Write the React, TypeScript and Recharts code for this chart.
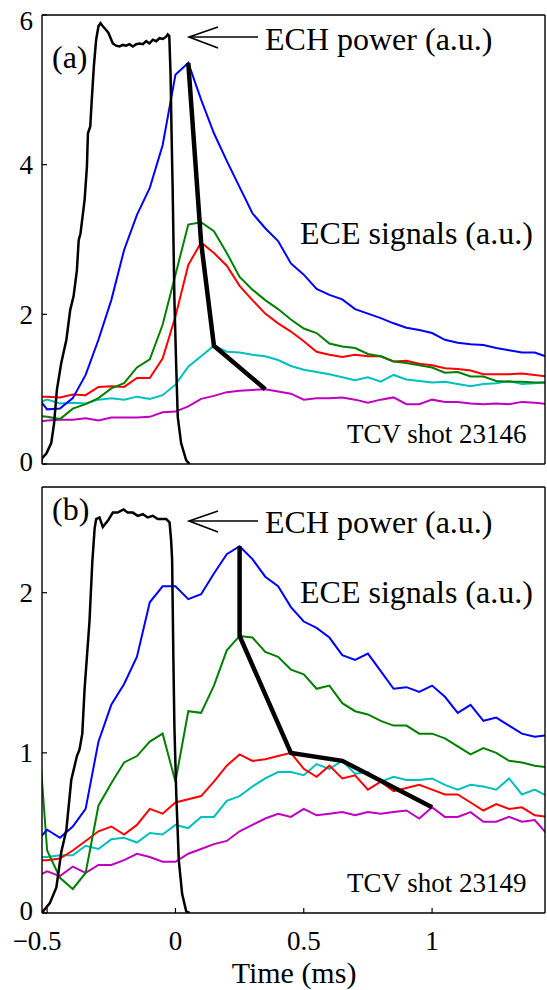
import React from 'react';
import { LineChart, Line, XAxis, YAxis } from 'recharts';

// sample times of the ECE channels (ms)
const TIME = [
  -0.55, -0.5, -0.45, -0.4, -0.35, -0.3, -0.25, -0.2, -0.15, -0.1, -0.05,
  0, 0.05, 0.1, 0.15, 0.2, 0.25, 0.3, 0.35, 0.4, 0.45,
  0.5, 0.55, 0.6, 0.65, 0.7, 0.75, 0.8, 0.85, 0.9, 0.95,
  1.0, 1.05, 1.1, 1.15, 1.2, 1.25, 1.3, 1.35, 1.4, 1.45,
];

// panel (a), shot 23146
const A_BLUE = [
  0.95, 0.73, 0.74, 0.88, 1.19, 1.66, 2.19, 2.86, 3.33, 3.69, 4.26,
  5.2, 5.36, 4.87, 4.42, 4.05, 3.7, 3.35, 3.15, 2.98, 2.68,
  2.53, 2.34, 2.26, 2.2, 2.07, 2.01, 1.95, 1.88, 1.82, 1.79,
  1.75, 1.66, 1.62, 1.6, 1.59, 1.55, 1.52, 1.49, 1.49, 1.43,
];
const A_GREEN = [
  0.65, 0.63, 0.6, 0.74, 0.8, 0.88, 1.01, 1.08, 1.29, 1.4, 1.86,
  2.53, 3.2, 3.23, 3.11, 2.82, 2.5, 2.33, 2.19, 2.07, 1.93,
  1.81, 1.75, 1.61, 1.57, 1.55, 1.47, 1.44, 1.37, 1.35, 1.32,
  1.29, 1.22, 1.23, 1.17, 1.17, 1.11, 1.1, 1.1, 1.09, 1.09,
];
const A_RED = [
  0.9, 0.9, 0.89, 0.93, 0.92, 1.03, 1.04, 1.03, 1.15, 1.15, 1.41,
  1.97, 2.66, 2.96, 2.82, 2.65, 2.38, 2.19, 2.01, 1.88, 1.77,
  1.64, 1.5, 1.46, 1.43, 1.46, 1.44, 1.44, 1.37, 1.38, 1.34,
  1.32, 1.28, 1.27, 1.25, 1.2, 1.2, 1.2, 1.21, 1.19, 1.17,
];
const A_CYAN = [
  0.8, 0.86, 0.81, 0.82, 0.81, 0.86, 0.88, 0.86, 0.9, 0.87, 0.92,
  1.06, 1.3, 1.44, 1.58, 1.5, 1.49, 1.46, 1.44, 1.39, 1.31,
  1.26, 1.23, 1.2, 1.16, 1.12, 1.16, 1.1, 1.19, 1.13, 1.11,
  1.09, 1.1, 1.07, 1.04, 1.07, 1.08, 1.11, 1.07, 1.08, 1.09,
];
const A_MAGENTA = [
  0.56, 0.58, 0.59, 0.59, 0.61, 0.58, 0.62, 0.62, 0.62, 0.63, 0.69,
  0.7, 0.77, 0.87, 0.91, 0.96, 0.98, 0.99, 1.0, 0.97, 0.94,
  0.86, 0.88, 0.88, 0.89, 0.86, 0.82, 0.86, 0.89, 0.8, 0.8,
  0.86, 0.83, 0.83, 0.81, 0.8, 0.81, 0.8, 0.83, 0.82, 0.8,
];

// panel (b), shot 23149
const B_BLUE = [
  0.43, 0.52, 0.47, 0.54, 0.65, 1.07, 1.3, 1.43, 1.6, 1.94, 2.04,
  2.04, 1.96, 1.99, 2.12, 2.24, 2.29, 2.21, 2.1, 2.04, 1.91,
  1.82, 1.78, 1.72, 1.61, 1.58, 1.62, 1.51, 1.4, 1.41, 1.38,
  1.42, 1.35, 1.25, 1.3, 1.2, 1.22, 1.17, 1.12, 1.1, 1.11,
];
const B_GREEN = [
  1.48, 0.39, 0.22, 0.15, 0.25, 0.67, 0.81, 0.94, 0.98, 1.07, 1.12,
  0.82, 1.26, 1.25, 1.42, 1.64, 1.73, 1.72, 1.63, 1.6, 1.52,
  1.49, 1.4, 1.42, 1.31, 1.26, 1.24, 1.2, 1.17, 1.17, 1.12,
  1.12, 1.09, 1.04, 0.99, 1.03, 1.0, 0.95, 0.94, 0.92, 0.91,
];
const B_RED = [
  0.33, 0.33, 0.34, 0.39, 0.45, 0.51, 0.54, 0.49, 0.55, 0.65, 0.62,
  0.69, 0.71, 0.73, 0.82, 0.92, 0.99, 0.95, 0.96, 0.98, 1.0,
  0.9, 0.85, 0.92, 0.84, 0.86, 0.77, 0.82, 0.76, 0.78, 0.8,
  0.77, 0.74, 0.74, 0.69, 0.64, 0.68, 0.65, 0.66, 0.61, 0.6,
];
const B_CYAN = [
  0.35, 0.35, 0.36, 0.36, 0.42, 0.4, 0.46, 0.47, 0.44, 0.5, 0.49,
  0.55, 0.53, 0.6, 0.6, 0.7, 0.73, 0.79, 0.84, 0.88, 0.88,
  0.86, 0.93, 0.9, 0.95, 0.87, 0.88, 0.82, 0.85, 0.83, 0.83,
  0.84, 0.8, 0.77, 0.8, 0.79, 0.77, 0.84, 0.74, 0.77, 0.73,
];
const B_MAGENTA = [
  0.22, 0.26, 0.23, 0.29, 0.25, 0.3, 0.3, 0.33, 0.37, 0.35, 0.32,
  0.32, 0.37, 0.4, 0.43, 0.45, 0.51, 0.55, 0.59, 0.62, 0.6,
  0.65, 0.61, 0.62, 0.63, 0.61, 0.63, 0.62, 0.63, 0.64, 0.59,
  0.66, 0.6, 0.6, 0.63, 0.57, 0.57, 0.6, 0.57, 0.58, 0.49,
];

// ECH power traces
const ECH_A_T = [
  -0.525, -0.519, -0.503, -0.484, -0.473, -0.462, -0.445, -0.425, -0.41, -0.397,
  -0.384, -0.377, -0.37, -0.354, -0.345, -0.341, -0.332, -0.326, -0.318, -0.309,
  -0.3, -0.292, -0.283, -0.27, -0.261, -0.244, -0.231, -0.218, -0.205, -0.192,
  -0.179, -0.166, -0.153, -0.14, -0.127, -0.114, -0.101, -0.088, -0.075, -0.062,
  -0.049, -0.036, -0.03, -0.024, -0.019, -0.015, -0.011, -0.004, 0.003, 0.009,
  0.022, 0.042, 0.055,
];
const ECH_A_V = [
  0, 0.08, 0.14, 0.28, 0.54, 0.99, 1.35, 1.66, 2.06, 2.24,
  2.59, 2.99, 3.08, 3.53, 3.97, 4.42, 4.51, 4.87, 5.31, 5.67,
  5.85, 5.89, 5.85, 5.8, 5.76, 5.62, 5.59, 5.58, 5.6, 5.59,
  5.61, 5.58, 5.61, 5.62, 5.61, 5.65, 5.62, 5.67, 5.65, 5.69,
  5.68, 5.71, 5.74, 5.72, 5.2, 4.4, 3.7, 2.19, 1.3, 0.63,
  0.28, 0.05, 0,
];
const ECH_B_T = [
  -0.525, -0.516, -0.49, -0.464, -0.445, -0.425, -0.406, -0.384, -0.374, -0.363,
  -0.354, -0.335, -0.324, -0.315, -0.309, -0.296, -0.283, -0.263, -0.244, -0.225,
  -0.202, -0.186, -0.166, -0.147, -0.127, -0.108, -0.088, -0.069, -0.049, -0.036,
  -0.023, -0.017, -0.013, -0.008, -0.004, 0.003, 0.013, 0.026, 0.042, 0.055,
];
const ECH_B_V = [
  0, 0.01, 0.06, 0.16, 0.38, 0.52, 0.83, 0.98, 1.02, 1.12,
  1.4, 1.82, 2.19, 2.4, 2.46, 2.47, 2.41, 2.45, 2.5, 2.5,
  2.52, 2.5, 2.5, 2.48, 2.49, 2.47, 2.48, 2.46, 2.46, 2.46,
  2.44, 2.33, 2.21, 1.58, 1.16, 0.75, 0.33, 0.12, 0.01, 0,
];

// peak-time lines joining the channel maxima
const A_PEAK_T = [0.05, 0.1, 0.15, 0.35];
const A_PEAK_V = [5.36, 2.96, 1.58, 1.0];
const B_PEAK_T = [0.25, 0.25, 0.45, 0.65, 1.0];
const B_PEAK_V = [2.29, 1.73, 1.0, 0.95, 0.66];

const X_DOMAIN: [number, number] = [-0.52, 1.44];
const X_TICKS = [-0.5, 0, 0.5, 1];

const COLORS = {
  blue: '#0000ff',
  green: '#008000',
  red: '#ff0000',
  cyan: '#00bfbf',
  magenta: '#bf00bf',
};

const FONT = "'Liberation Serif', 'Times New Roman', serif";
const AXIS = { stroke: '#000', strokeWidth: 1.4 };
const TICK = { stroke: '#000', strokeWidth: 1.2 };
const TICK_SIZE = 27;

const pairs = (t: number[], v: number[]) => t.map((x, i) => ({ t: x, v: v[i] }));

const table = (s: { blue: number[]; green: number[]; red: number[]; cyan: number[]; magenta: number[] }) =>
  TIME.map((t, i) => ({
    t,
    blue: s.blue[i],
    green: s.green[i],
    red: s.red[i],
    cyan: s.cyan[i],
    magenta: s.magenta[i],
  }));

const fmtTime = (v: number) => (v < 0 ? `\u2212${Math.abs(v)}` : String(v));

// x labels: the negative one sits a little left of its tick, as in the figure
const TimeTick = (props: any) => {
  const { x, y, payload } = props;
  const v = payload.value as number;
  return (
    <text x={x + (v < 0 ? -10 : 0)} y={y} dy="0.71em" textAnchor="middle" fontSize={TICK_SIZE} fill="#000" fontFamily={FONT}>
      {fmtTime(v)}
    </text>
  );
};

// y labels: the top one is kept inside the frame, the zero one clear of the time labels
const ValueTick = (props: any) => {
  const { x, y, payload } = props;
  const v = payload.value as number;
  const yy = v === 0 ? y - 3 : Math.max(y, 20);
  return (
    <text x={x} y={yy} dy="0.355em" textAnchor="end" fontSize={TICK_SIZE} fill="#000" fontFamily={FONT}>
      {String(v)}
    </text>
  );
};

type PanelProps = {
  height: number;
  topH: number;
  bottomH: number;
  yDomain: [number, number];
  yTicks: number[];
  rows: ReturnType<typeof table>;
  ech: { t: number; v: number }[];
  peaks: { t: number; v: number }[];
  timeLabels: boolean;
};

const Panel = ({ height, topH, bottomH, yDomain, yTicks, rows, ech, peaks, timeLabels }: PanelProps) => (
  <LineChart width={547} height={height} data={rows} margin={{ top: 0, right: 0, bottom: 0, left: 0 }}>
    <XAxis
      dataKey="t"
      type="number"
      domain={X_DOMAIN}
      ticks={X_TICKS}
      allowDataOverflow
      interval={0}
      height={bottomH}
      tickSize={-5}
      tickMargin={23}
      tick={timeLabels ? <TimeTick /> : false}
      axisLine={AXIS}
      tickLine={TICK}
    />
    <XAxis
      xAxisId="top"
      orientation="top"
      type="number"
      domain={X_DOMAIN}
      ticks={X_TICKS}
      allowDataOverflow
      interval={0}
      height={topH}
      tickSize={-5}
      tick={false}
      axisLine={AXIS}
      tickLine={TICK}
    />
    <YAxis
      type="number"
      domain={yDomain}
      ticks={yTicks}
      allowDataOverflow
      interval={0}
      width={42}
      tickSize={-5}
      tickMargin={14}
      tick={<ValueTick />}
      axisLine={AXIS}
      tickLine={TICK}
    />
    <YAxis
      yAxisId="right"
      orientation="right"
      type="number"
      domain={yDomain}
      ticks={yTicks}
      allowDataOverflow
      interval={0}
      width={2}
      tickSize={-5}
      tick={false}
      axisLine={AXIS}
      tickLine={TICK}
    />
    {(['magenta', 'cyan', 'red', 'green', 'blue'] as const).map((k) => (
      <Line
        key={k}
        dataKey={k}
        type="linear"
        stroke={COLORS[k]}
        strokeWidth={2}
        dot={false}
        activeDot={false}
        isAnimationActive={false}
      />
    ))}
    <Line data={ech} dataKey="v" type="linear" stroke="#000" strokeWidth={2.5} dot={false} activeDot={false} isAnimationActive={false} />
    <Line data={peaks} dataKey="v" type="linear" stroke="#000" strokeWidth={4.5} dot={false} activeDot={false} isAnimationActive={false} />
  </LineChart>
);

const Arrow = ({ y }: { y: number }) => (
  <g stroke="#000" strokeWidth={1.6} fill="none">
    <line x1={189} y1={y} x2={258} y2={y} />
    <polyline points={`218,${y - 10} 189,${y} 218,${y + 11}`} />
  </g>
);

export default function App() {
  return (
    <div style={{ position: 'relative', width: 547, height: 990, background: '#fff', fontFamily: FONT }}>
      <style>{'body{margin:0}'}</style>
      <div style={{ position: 'absolute', left: 0, top: 0 }}>
        <Panel
          height={480}
          topH={15}
          bottomH={16}
          yDomain={[0, 6]}
          yTicks={[0, 2, 4, 6]}
          rows={table({ blue: A_BLUE, green: A_GREEN, red: A_RED, cyan: A_CYAN, magenta: A_MAGENTA })}
          ech={pairs(ECH_A_T, ECH_A_V)}
          peaks={pairs(A_PEAK_T, A_PEAK_V)}
          timeLabels={false}
        />
      </div>
      <div style={{ position: 'absolute', left: 0, top: 470 }}>
        <Panel
          height={520}
          topH={17}
          bottomH={77}
          yDomain={[0, 2.66]}
          yTicks={[0, 1, 2]}
          rows={table({ blue: B_BLUE, green: B_GREEN, red: B_RED, cyan: B_CYAN, magenta: B_MAGENTA })}
          ech={pairs(ECH_B_T, ECH_B_V)}
          peaks={pairs(B_PEAK_T, B_PEAK_V)}
          timeLabels
        />
      </div>
      <svg
        width={547}
        height={990}
        style={{ position: 'absolute', left: 0, top: 0, pointerEvents: 'none' }}
        fontFamily={FONT}
        fill="#000"
      >
        <text x={52} y={68} fontSize={32}>(a)</text>
        <text x={265} y={50} fontSize={32}>ECH power (a.u.)</text>
        <Arrow y={37} />
        <text x={300} y={244} fontSize={32}>ECE signals (a.u.)</text>
        <text x={347} y={443} fontSize={27}>TCV shot 23146</text>

        <text x={52} y={520} fontSize={32}>(b)</text>
        <text x={265} y={533} fontSize={32}>ECH power (a.u.)</text>
        <Arrow y={521} />
        <text x={300} y={603} fontSize={32}>ECE signals (a.u.)</text>
        <text x={347} y={892} fontSize={27}>TCV shot 23149</text>

        <text x={294} y={983} fontSize={30} textAnchor="middle">Time (ms)</text>
      </svg>
    </div>
  );
}
